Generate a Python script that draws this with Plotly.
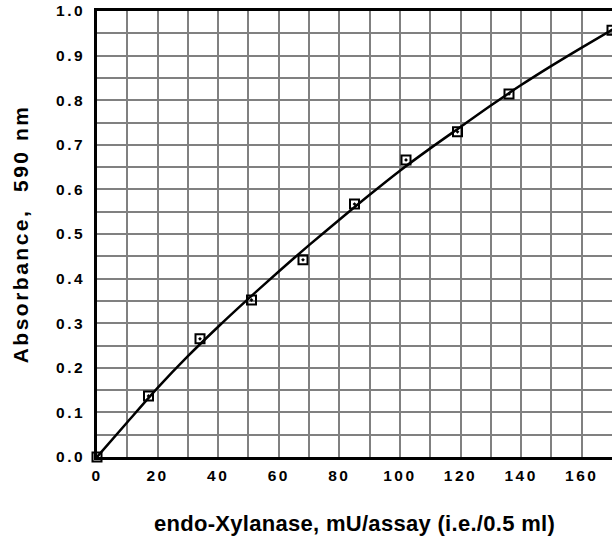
import plotly.graph_objects as go

# Measured data points
activity = [0, 17, 34, 51, 68, 85, 102, 119, 136, 170]
absorbance = [0.0, 0.137, 0.265, 0.352, 0.442, 0.567, 0.666, 0.729, 0.814, 0.957]

# Standard curve
curve_x = [0, 10, 20, 30, 40, 50, 60, 70, 80, 90, 100, 110, 120, 130, 140, 150, 160, 170]
curve_y = [0.0, 0.078, 0.155, 0.226, 0.292, 0.355, 0.416, 0.475, 0.532, 0.588,
           0.642, 0.692, 0.740, 0.788, 0.834, 0.877, 0.918, 0.958]

x_tick_vals = [0, 20, 40, 60, 80, 100, 120, 140, 160]
y_tick_vals = [0.0, 0.1, 0.2, 0.3, 0.4, 0.5, 0.6, 0.7, 0.8, 0.9, 1.0]
x_tick_labels = [f"{v}" for v in x_tick_vals]
y_tick_labels = [f"{v:.1f}" for v in y_tick_vals]

x_title = "endo-Xylanase, mU/assay (i.e./0.5 ml)"
y_title = "Absorbance,&nbsp; 590 nm"


def spaced(text, px):
    return f'<span style="letter-spacing:{px}px">{text}</span>'


FONT = "Liberation Sans, Arial, sans-serif"
GRID = "#808080"

fig = go.Figure()
fig.add_trace(go.Scatter(
    x=curve_x, y=curve_y, mode="lines",
    line=dict(color="black", width=2.5, shape="spline", smoothing=0.8),
    hoverinfo="skip", showlegend=False,
))
fig.add_trace(go.Scatter(
    x=activity, y=absorbance, mode="markers",
    marker=dict(symbol="square-open-dot", size=9, color="black",
                line=dict(color="black", width=2)),
    cliponaxis=False, showlegend=False,
))

fig.update_layout(
    width=612, height=540,
    margin=dict(l=97, r=0, t=11, b=83),
    paper_bgcolor="white", plot_bgcolor="white",
    font=dict(family=FONT, color="black"),
)
fig.update_xaxes(
    range=[0, 170], tickvals=x_tick_vals,
    ticktext=[spaced(t, 2.5) for t in x_tick_labels],
    tickfont=dict(family=FONT, size=15.5, weight="bold", color="black"),
    showgrid=True, gridcolor=GRID, gridwidth=2,
    minor=dict(dtick=10, showgrid=True, gridcolor=GRID, gridwidth=2),
    showline=True, linecolor="black", linewidth=2.5, mirror=True,
    zeroline=False, ticks="", ticklabelstandoff=3,
    title=dict(text=spaced(x_title, 0.3), font=dict(family=FONT, size=22, weight="bold"), standoff=33),
)
fig.update_yaxes(
    range=[0, 1.0], tickvals=y_tick_vals,
    ticktext=[spaced(t, 2.5) for t in y_tick_labels],
    tickfont=dict(family=FONT, size=15.5, weight="bold", color="black"),
    showgrid=True, gridcolor=GRID, gridwidth=2,
    minor=dict(dtick=0.05, showgrid=True, gridcolor=GRID, gridwidth=2),
    showline=True, linecolor="black", linewidth=2.5, mirror=False,
    zeroline=False, ticks="", ticklabelstandoff=6,
    title=dict(text=spaced(y_title, 2.5), font=dict(family=FONT, size=21, weight="bold"), standoff=22),
)

fig.write_html("out.html")
